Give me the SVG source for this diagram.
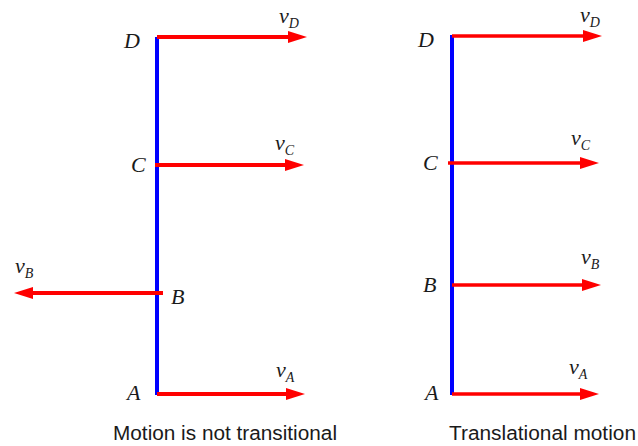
<svg xmlns="http://www.w3.org/2000/svg" width="638" height="446" viewBox="0 0 638 446">
<defs>
<style>
.bar{stroke:#0000ff;stroke-width:4;fill:none}
.vec{stroke:#ff0000;stroke-width:4;fill:none}
.head{fill:#ff0000}
.pt{font-family:"Liberation Serif",serif;font-style:italic;font-size:22px;fill:#1a1a1a}
.v{font-family:"Liberation Serif",serif;font-style:italic;font-size:22px;fill:#1a1a1a}
.sub{font-size:14px}
.cap{font-family:"Liberation Sans",Arial,sans-serif;font-size:20px;fill:#1a1a1a}
</style>
</defs>
<g id="left">
<g id="bar-left"><line class="bar" x1="157" y1="37" x2="157" y2="395"/></g>
<g id="connectors-left">
<line class="vec" x1="157" y1="37" x2="290" y2="37"/><polygon class="head" points="307,37 288,31 288,43"/>
<line class="vec" x1="155" y1="165" x2="288" y2="165"/><polygon class="head" points="304,165 285,159 285,171"/>
<line class="vec" x1="163" y1="293" x2="30" y2="293"/><polygon class="head" points="14,293 33,287 33,299"/>
<line class="vec" x1="157" y1="394" x2="288" y2="394"/><polygon class="head" points="305,394 286,388 286,400"/>
</g>
<g id="labels-left">
<text class="pt" x="124" y="48">D</text>
<text class="pt" x="131" y="172">C</text>
<text class="pt" x="171" y="304">B</text>
<text class="pt" x="127" y="400">A</text>
<text class="v" x="279" y="23">v<tspan class="sub" dy="5">D</tspan></text>
<text class="v" x="275" y="150">v<tspan class="sub" dy="5">C</tspan></text>
<text class="v" x="15" y="273">v<tspan class="sub" dy="5">B</tspan></text>
<text class="v" x="276" y="377">v<tspan class="sub" dy="5">A</tspan></text>
</g>
<text class="cap" x="113" y="440" textLength="224" lengthAdjust="spacingAndGlyphs">Motion is not transitional</text>
</g>
<g id="right">
<g id="bar-right"><line class="bar" x1="452" y1="35" x2="452" y2="395"/></g>
<g id="connectors-right">
<line class="vec" x1="452" y1="36" x2="585" y2="36" style="stroke-width:3.5"/><polygon class="head" points="602,36 583,30 583,42"/>
<line class="vec" x1="448" y1="163" x2="582" y2="163" style="stroke-width:3.5"/><polygon class="head" points="599,163 580,157 580,169"/>
<line class="vec" x1="452" y1="285" x2="584" y2="285" style="stroke-width:3.5"/><polygon class="head" points="601,285 582,279 582,291"/>
<line class="vec" x1="452" y1="394" x2="582" y2="394" style="stroke-width:3.5"/><polygon class="head" points="599,394 580,388 580,400"/>
</g>
<g id="labels-right">
<text class="pt" x="418" y="47">D</text>
<text class="pt" x="423" y="170">C</text>
<text class="pt" x="423" y="292">B</text>
<text class="pt" x="425" y="400">A</text>
<text class="v" x="580" y="22">v<tspan class="sub" dy="5">D</tspan></text>
<text class="v" x="571" y="145">v<tspan class="sub" dy="5">C</tspan></text>
<text class="v" x="581" y="264">v<tspan class="sub" dy="5">B</tspan></text>
<text class="v" x="569" y="374">v<tspan class="sub" dy="5">A</tspan></text>
</g>
<text class="cap" x="449" y="440" textLength="187" lengthAdjust="spacingAndGlyphs">Translational motion</text>
</g>
</svg>
